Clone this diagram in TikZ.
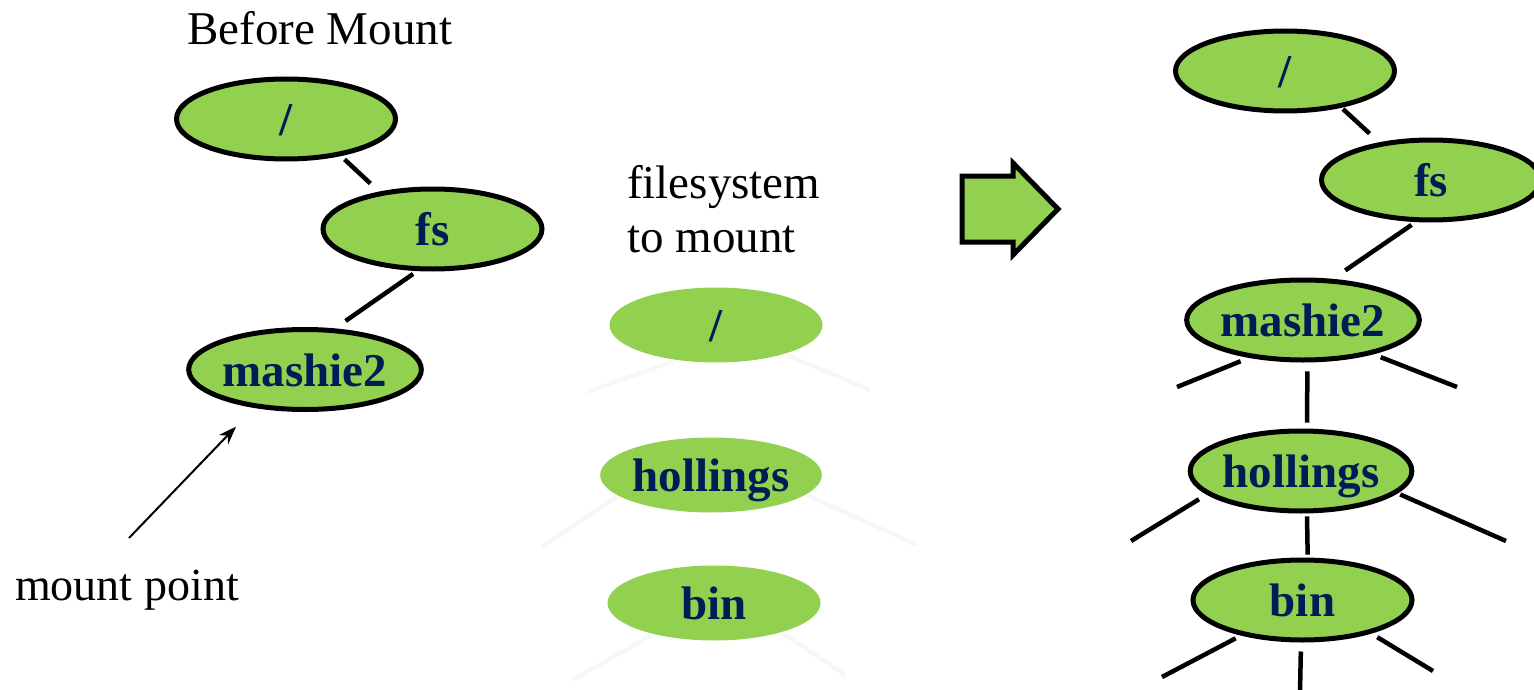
\documentclass[tikz,border=0pt]{standalone}
\usepackage{fontspec}
\setmainfont{Liberation Serif}
\usetikzlibrary{shapes.geometric,arrows.meta}
\definecolor{leaf}{HTML}{92D050}
\definecolor{ink}{HTML}{001C54}
\begin{document}
\begin{tikzpicture}[x=1pt,y=-1pt,
  dirnode/.style={ellipse, fill=leaf, draw=black, line width=5pt,
    minimum width=219pt, minimum height=80pt, inner sep=0pt, text=ink,
    font=\bfseries\fontsize{47}{50}\selectfont, text height=33pt, text depth=0pt},
  ghostnode/.style={dirnode, draw=none, minimum width=213pt, minimum height=75pt},
  link/.style={line width=4.5pt},
  ghostlink/.style={line width=4.5pt, draw=black!3},
  plaintext/.style={font=\fontsize{47}{50}\selectfont, inner sep=0pt, anchor=base west}]
\useasboundingbox (0,0) rectangle (1534,690);

% captions
\node[plaintext] (before) at (187,45) {Before Mount};
\node[plaintext] (fsys) at (627,198) {filesystem};
\node[plaintext] (tomount) at (627,252) {to mount};
\node[plaintext, font=\fontsize{46}{50}\selectfont] (mpoint) at (15,600) {mount point};

% tree before mounting
\node[dirnode] (Lroot) at (286,119) {/};
\node[dirnode] (Lfs) at (432.5,229) {fs};
\node[dirnode] (Lm2) at (305,369.5) {mashie2};
\draw[link, shorten <=5pt, shorten >=12pt] (Lroot.-34) -- (Lfs.145);
\draw[link, shorten <=5pt, shorten >=13pt] (Lfs.-110) -- (Lm2.54);

% arrow to the mount point
\coordinate (mp) at (129,538);
\draw[line width=2pt, -{Stealth[length=18pt,width=13pt]}, shorten >=26pt] (mp) -- (Lm2.-143);

% filesystem to be mounted
\node[ghostnode] (Mroot) at (716,325) {/};
\node[ghostnode] (Mh) at (711,475) {hollings};
\node[ghostnode] (Mb) at (714,603) {bin};
\coordinate (mrl) at (587,392);
\coordinate (mrr) at (870,390);
\coordinate (mhl) at (542,547);
\coordinate (mhr) at (917,545);
\coordinate (mbl) at (573,680);
\coordinate (mbr) at (845,675);
\draw[ghostlink] (Mroot.-140) -- (mrl);
\draw[ghostlink] (Mroot.-23) -- (mrr);
\draw[ghostlink] (Mh.-167) -- (mhl);
\draw[ghostlink] (Mh.-12) -- (mhr);
\draw[ghostlink] (Mb.-153) -- (mbl);
\draw[ghostlink] (Mb.-24) -- (mbr);

% block arrow
\draw[line width=5pt, fill=leaf, line join=miter]
  (962,176) -- (1013,176) -- (1013,163) -- (1058,209) -- (1013,255) -- (1013,242) -- (962,242) -- cycle;

% tree after mounting
\node[dirnode] (Rroot) at (1285,71) {/};
\node[dirnode] (Rfs) at (1431,180) {fs};
\node[dirnode] (Rm2) at (1303,320) {mashie2};
\node[dirnode] (Rh) at (1301,471) {hollings};
\node[dirnode] (Rb) at (1302.5,600) {bin};
\draw[link, shorten <=2pt, shorten >=13pt] (Rroot.-33) -- (Rfs.144);
\draw[link, shorten <=5pt, shorten >=15pt] (Rfs.-110) -- (Rm2.54);
\draw[link, shorten <=9pt, shorten >=6pt] (Rm2.-84) -- (Rh.82);
\draw[link, shorten <=3pt, shorten >=3pt] (Rh.-82) -- (Rb.83);
\coordinate (m2l) at (1177,387);
\coordinate (m2r) at (1457,387);
\coordinate (hl) at (1131,541);
\coordinate (hr) at (1506,541);
\coordinate (bl) at (1162,677);
\coordinate (br) at (1433,671);
\coordinate (bd) at (1300,692);
\draw[link, shorten <=9pt] (Rm2.-145) -- (m2l);
\draw[link, shorten <=8pt] (Rm2.-26) -- (m2r);
\draw[link, shorten <=9pt] (Rh.-166) -- (hl);
\draw[link, shorten <=3pt] (Rh.-13) -- (hr);
\draw[link, shorten <=6pt] (Rb.-150) -- (bl);
\draw[link, shorten <=7pt] (Rb.-26) -- (br);
\draw[link, shorten <=9pt] (Rb.-92) -- (bd);
\end{tikzpicture}
\end{document}
